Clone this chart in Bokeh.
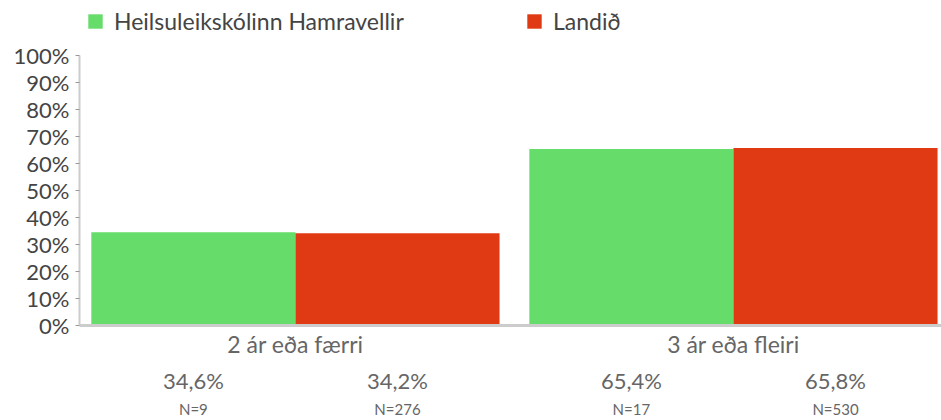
import numpy as np
from bokeh.plotting import figure
from bokeh.models import (Range1d, FixedTicker, PrintfTickFormatter, LinearAxis,
                          Legend, LegendItem)
from bokeh.embed import file_html
from bokeh.resources import INLINE

# ---- data ----
categories = ["2 ár eða færri", "3 ár eða fleiri"]
series = ["Heilsuleikskólinn Hamravellir", "Landið"]
hamravellir = [34.6, 65.4]
landid = [34.2, 65.8]
n_hamravellir = [9, 17]
n_landid = [276, 530]
y_ticks = [0, 10, 20, 30, 40, 50, 60, 70, 80, 90, 100]

colors = ["#66dc6a", "#e03a15"]
FONT = "Lato"

centers = np.arange(len(categories)) + 0.5
offset = 0.233
bar_w = 0.466
x_h = [float(c - offset) for c in centers]
x_l = [float(c + offset) for c in centers]

# frame reaches the top of the canvas so the legend (inside it) is not clipped
p = figure(width=941, height=420, output_backend="svg", toolbar_location=None,
           x_range=Range1d(0.007, 1.975), y_range=Range1d(0, 120.5),
           min_border_left=79, min_border_right=0, min_border_top=0,
           min_border_bottom=8, x_axis_location=None, y_axis_location=None)
p.outline_line_color = None
p.xgrid.visible = False
p.ygrid.visible = False
p.background_fill_color = "white"
p.border_fill_color = "white"

r1 = p.vbar(x=x_h, top=hamravellir, width=bar_w, color=colors[0], line_color=None)
r2 = p.vbar(x=x_l, top=landid, width=bar_w, color=colors[1], line_color=None)

# y axis
yax = LinearAxis(ticker=FixedTicker(ticks=y_ticks), bounds=(0, 100),
                 formatter=PrintfTickFormatter(format="%d%%"))
yax.axis_line_color = "#cccccc"
yax.axis_line_width = 2
yax.major_tick_line_color = "#999999"
yax.major_tick_out = 4
yax.major_tick_in = 0
yax.minor_tick_line_color = None
yax.major_label_standoff = 6
yax.major_label_text_font = FONT
yax.major_label_text_font_size = "22px"
yax.major_label_text_color = "#444444"
p.add_layout(yax, "left")

# x axis: category labels
cat_ticks = [float(c) for c in centers]
xax = LinearAxis(ticker=FixedTicker(ticks=cat_ticks),
                 major_label_overrides={t: c for t, c in zip(cat_ticks, categories)})
xax.axis_line_color = "#cccccc"
xax.axis_line_width = 3
xax.major_tick_line_color = None
xax.major_tick_out = 0
xax.major_tick_in = 0
xax.minor_tick_line_color = None
xax.major_label_standoff = 4
xax.major_label_text_font = FONT
xax.major_label_text_font_size = "23px"
xax.major_label_text_color = "#666666"
p.add_layout(xax, "below")

# value labels
val_ticks = []
val_labels = {}
n_labels = {}
for i in range(len(categories)):
    for xv, v, n in ((x_h[i], hamravellir[i], n_hamravellir[i]),
                     (x_l[i], landid[i], n_landid[i])):
        val_ticks.append(xv)
        val_labels[xv] = f"{v:.1f}".replace(".", ",") + "%"
        n_labels[xv] = f"N={n}"

vax = LinearAxis(ticker=FixedTicker(ticks=val_ticks), major_label_overrides=val_labels)
vax.axis_line_color = None
vax.major_tick_line_color = None
vax.major_tick_out = 0
vax.major_tick_in = 0
vax.minor_tick_line_color = None
vax.major_label_standoff = 6
vax.major_label_text_font = FONT
vax.major_label_text_font_size = "22px"
vax.major_label_text_color = "#666666"
p.add_layout(vax, "below")

nax = LinearAxis(ticker=FixedTicker(ticks=val_ticks), major_label_overrides=n_labels)
nax.axis_line_color = None
nax.major_tick_line_color = None
nax.major_tick_out = 0
nax.major_tick_in = 0
nax.minor_tick_line_color = None
nax.major_label_standoff = 3
nax.major_label_text_font = FONT
nax.major_label_text_font_size = "15px"
nax.major_label_text_color = "#666666"
p.add_layout(nax, "below")

# legends (two, positioned separately inside the frame's top strip)
for r, name, loc in ((r1, series[0], (7, 290)), (r2, series[1], (446, 290))):
    lg = Legend(items=[LegendItem(label=name, renderers=[r])], location=loc,
                orientation="horizontal", padding=0, margin=0, glyph_width=18,
                glyph_height=18, label_standoff=10, label_text_font=FONT,
                label_text_font_size="23px", label_text_color="#444444",
                border_line_color=None, background_fill_alpha=0)
    p.add_layout(lg, "center")

open("out.html", "w").write(file_html(p, INLINE))
